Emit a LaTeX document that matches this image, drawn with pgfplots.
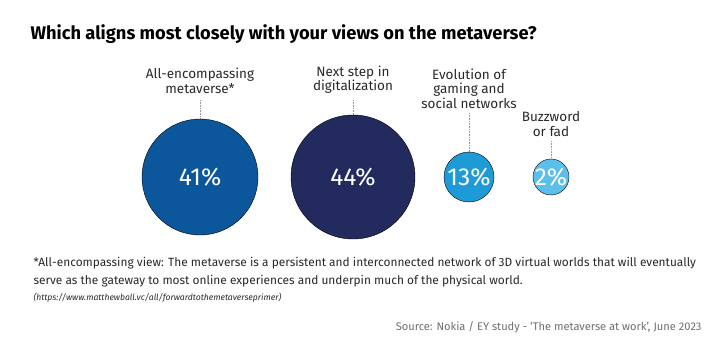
\documentclass[border=0pt]{standalone}
\usepackage{pgfplots}
\pgfplotsset{compat=1.18}
\usepackage{fontspec}
\setmainfont{Fira Sans}
\definecolor{c1}{RGB}{12,86,156}
\definecolor{c2}{RGB}{35,42,94}
\definecolor{c3}{RGB}{30,155,215}
\definecolor{c4}{RGB}{92,190,235}
\definecolor{txt}{RGB}{40,40,40}
\definecolor{src}{RGB}{110,110,110}
\begin{document}
\begin{tikzpicture}
\begin{axis}[
  width=720pt, height=350pt, scale only axis,
  xmin=0, xmax=720, ymin=0, ymax=350, y dir=reverse,
  hide axis, clip=false,
  point meta=explicit symbolic,
  nodes near coords,
  every node near coord/.style={anchor=center, text=white, font=\fontsize{24.5}{26}\selectfont},
]
\path (axis cs:0,0) rectangle (axis cs:720,350);
% leader lines
\addplot[densely dotted, gray!80, line width=0.6pt, nodes near coords={}] coordinates {(200,100) (200,119)};
\addplot[densely dotted, gray!80, line width=0.6pt, nodes near coords={}] coordinates {(353,100) (353,115)};
\addplot[densely dotted, gray!80, line width=0.6pt, nodes near coords={}] coordinates {(469,113) (469,152)};
\addplot[densely dotted, gray!80, line width=0.6pt, nodes near coords={}] coordinates {(551,141) (551,159)};
% circles
\addplot[only marks, mark=*, mark size=58pt, draw=none, fill=c1, mark options={draw=none, fill=c1}] coordinates {(200,177) [41\%]};
\addplot[only marks, mark=*, mark size=62pt, draw=none, fill=c2, mark options={draw=none, fill=c2}] coordinates {(353,177) [44\%]};
\addplot[only marks, mark=*, mark size=25pt, draw=none, fill=c3, mark options={draw=none, fill=c3}] coordinates {(469,177) [13\%]};
\addplot[only marks, mark=*, mark size=18pt, draw=none, fill=c4, mark options={draw=none, fill=c4}] coordinates {(551,177) [2\%]};
% labels
\node[anchor=south, align=center, text=txt, font=\fontsize{13.5}{14.5}\selectfont] at (axis cs:200,97) {All-encompassing\\metaverse*};
\node[anchor=south, align=center, text=txt, font=\fontsize{13.5}{14.5}\selectfont] at (axis cs:353,97) {Next step in\\digitalization};
\node[anchor=south, align=center, text=txt, font=\fontsize{13.5}{14.5}\selectfont] at (axis cs:469,112) {Evolution of\\gaming and\\social networks};
\node[anchor=south, align=center, text=txt, font=\fontsize{13.5}{14.5}\selectfont] at (axis cs:551,140) {Buzzword\\or fad};
% title
\node[anchor=base west, text=black, font=\bfseries\fontsize{18.3}{20}\selectfont] at (axis cs:27,40) {Which aligns most closely with your views on the metaverse?};
% footnote
\node[anchor=base west, text=txt, font=\fontsize{11.9}{12}\selectfont] at (axis cs:30,266) {*All-encompassing view: The metaverse is a persistent and interconnected network of 3D virtual worlds that will eventually};
\node[anchor=base west, text=txt, font=\fontsize{11.9}{12}\selectfont] at (axis cs:30,284) {serve as the gateway to most online experiences and underpin much of the physical world.};
\node[anchor=base west, text=txt, font=\itshape\fontsize{8.6}{9}\selectfont] at (axis cs:30,300) {(https://www.matthewball.vc/all/forwardtothemetaverseprimer)};
\node[anchor=base east, text=src, font=\fontsize{11.1}{12}\selectfont] at (axis cs:705,330) {Source: Nokia / EY study - `The metaverse at work', June 2023};
\end{axis}
\end{tikzpicture}
\end{document}
